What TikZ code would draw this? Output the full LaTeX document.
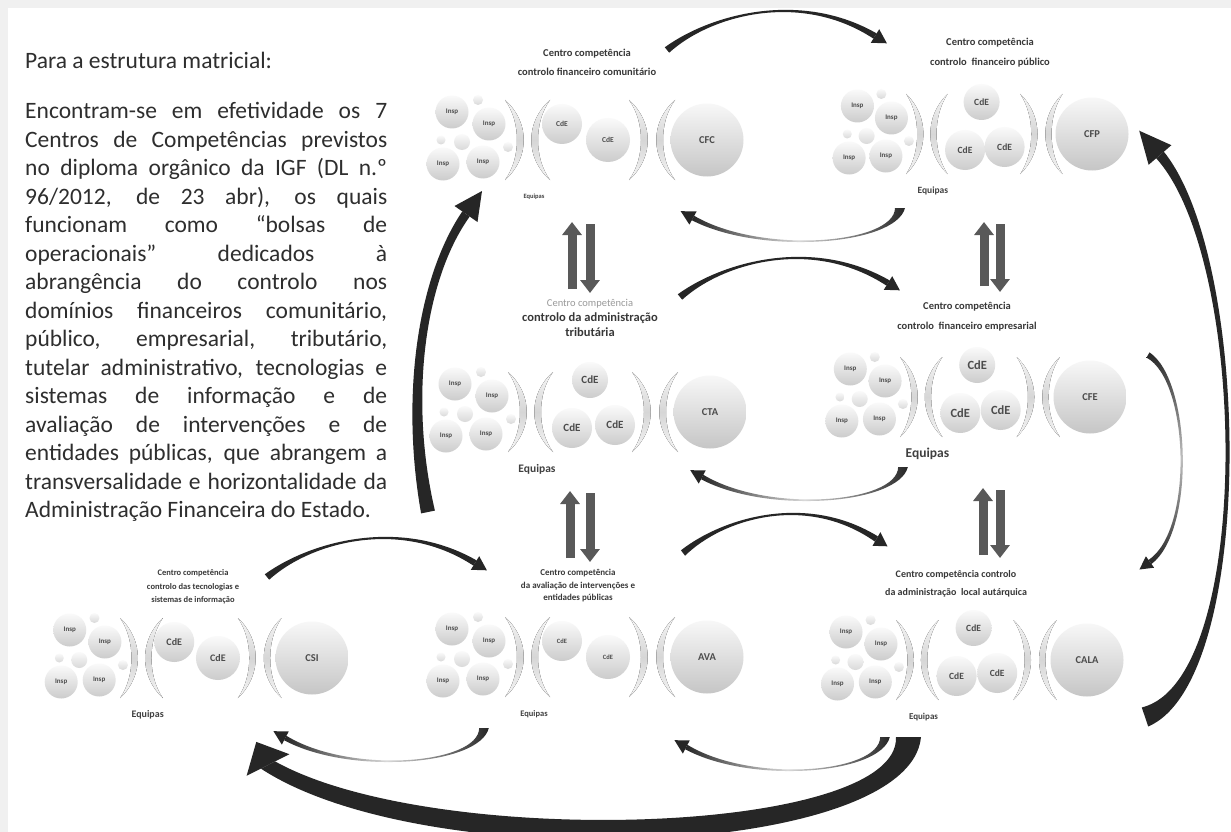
\documentclass[tikz,border=0pt]{standalone}
\usepackage{fontspec}
\setmainfont{Carlito}
\usetikzlibrary{arrows.meta}

\tikzset{
  bola/.style={circle, inner sep=0pt, top color=gray!4, bottom color=gray!40, text=black!70},
  bolinha/.style={circle, inner sep=0pt, top color=gray!4, bottom color=gray!30},
  insp/.style={bola, minimum size=33pt, font=\bfseries\fontsize{7}{7}\selectfont},
  cde/.style={bola, font=\bfseries\fontsize{9}{9}\selectfont},
  centro/.style={bola, minimum size=73pt, top color=gray!6, bottom color=gray!45, font=\bfseries\fontsize{10.5}{10.5}\selectfont},
  equipas/.style={text=black!75, inner sep=0pt, font=\bfseries\fontsize{9}{9}\selectfont},
  letracde/.style={cde/.append style={font=\bfseries\fontsize{#1}{#1}\selectfont}},
  letraeq/.style={equipas/.append style={font=\bfseries\fontsize{#1}{#1}\selectfont}},
  arco/.style={top color=gray!8, bottom color=gray!8, middle color=gray!32},
  titulo/.style={align=center, text=black!78, inner sep=0pt},
  texto/.style={inner sep=0pt, text=black!82, font=\fontsize{23.5}{28.5}\selectfont},
  bloco/.style={line width=9pt, black!65, -{Triangle[length=13pt, width=19pt]}},
  seta/.style={fill=black!85},
  fundo/.style={left color=black!85, right color=black!85, middle color=black!15},
  fundov/.style={top color=black!85, bottom color=black!85, middle color=black!25},
  % one centre: equipas, arcs, CdE and the centre itself
  pics/equipa/.style n args={2}{code={
    \node[bolinha, minimum size=10pt] (p1) at (-229,-40) {};
    \node[bolinha, minimum size=9pt] (p2) at (-266,0) {};
    \node[bolinha, minimum size=16pt] (p3) at (-245,2) {};
    \node[bolinha, minimum size=10pt] (p4) at (-199,7) {};
    \node[insp] (i1) at (-255,-28) {Insp};
    \node[insp] (i2) at (-218,-16) {Insp};
    \node[insp] (i3) at (-264,24) {Insp};
    \node[insp] (i4) at (-224,22) {Insp};
    \foreach \ax/\ad in {-202/1,-157/-1,-78/1,-32/-1}
      \fill[arco] (\ax,-40) .. controls ({\ax+25*\ad},-18) and ({\ax+25*\ad},18) .. (\ax,40)
        .. controls ({\ax+16*\ad},18) and ({\ax+16*\ad},-18) .. (\ax,-40) -- cycle;
    \ifnum#2=2
      \node[cde, minimum size=40pt] (c1) at (-145,-16) {CdE};
      \node[cde, minimum size=44pt] (c2) at (-99,0) {CdE};
    \else
      \node[cde, minimum size=36pt] (c1) at (-120,-32) {CdE};
      \node[cde, minimum size=40pt] (c2) at (-138,16) {CdE};
      \node[cde, minimum size=40pt] (c3) at (-95,13) {CdE};
    \fi
    \node[centro] (c) at (0,0) {#1};
    \node[equipas] (e) at (-173,57) {Equipas};
  }},
  pics/seta cima/.style={code={
    \fill[seta] (-2.2,-2.7) .. controls (43,-35.5) and (133,-60.5) .. (209.6,-16.6)
      -- (206.4,-11.4) .. controls (133,-59.5) and (43,-34.5) .. (2.2,2.7) -- cycle;
    \fill[seta] (212.2,-20.8) -- (219.9,-6.7) -- (203.8,-7.2) -- cycle;
  }},
  pics/seta baixo/.style={code={
    \shade[fundo] (5,0) .. controls (-4.5,37.5) and (-140,47.5) .. (-208.2,12.2)
      -- (-205.8,7.8) .. controls (-140,46.5) and (-5.5,36.5) .. (-5,0) -- cycle;
    \fill[seta] (-203.4,3.4) -- (-219.3,3.2) -- (-210.6,16.6) -- cycle;
  }},
}

\begin{document}
\begin{tikzpicture}[x=1pt,y=-1pt]
\useasboundingbox (0,0) rectangle (1231,832);
\fill[gray!12] (0,0) rectangle (1231,832);
\fill[white] (8,8) rectangle (1231,832);

% text on the left
\node[texto, anchor=base west] (intro) at (25,68.5) {Para a estrutura matricial:};
\node[texto, anchor=north west, align=left] (corpo) at (25,102) {%
\makebox[362pt][s]{Encontram-se em efetividade os 7}\\
\makebox[362pt][s]{Centros de Competências previstos}\\
\makebox[362pt][s]{no diploma orgânico da IGF (DL n.º}\\
\makebox[362pt][s]{96/2012, de 23 abr), os quais}\\
\makebox[362pt][s]{funcionam como “bolsas de}\\
\makebox[362pt][s]{operacionais” dedicados à}\\
\makebox[362pt][s]{abrangência do controlo nos}\\
\makebox[362pt][s]{domínios financeiros comunitário,}\\
\makebox[362pt][s]{público, empresarial, tributário,}\\
\makebox[362pt][s]{tutelar administrativo, tecnologias e}\\
\makebox[362pt][s]{sistemas de informação e de}\\
\makebox[362pt][s]{avaliação de intervenções e de}\\
\makebox[362pt][s]{entidades públicas, que abrangem a}\\
\makebox[362pt][s]{transversalidade e horizontalidade da}\\
Administração Financeira do Estado.};

% titles
\node[titulo, font=\bfseries\fontsize{10.5}{19}\selectfont] (tcfc) at (587,62) {Centro competência\\controlo financeiro comunitário};
\node[titulo, font=\bfseries\fontsize{10.5}{20}\selectfont] (tcfp) at (990,53) {Centro competência\\controlo\ \ financeiro público};
\node[titulo, font=\bfseries\fontsize{12.5}{15}\selectfont] (tcta) at (590,318) {{\mdseries\fontsize{10.5}{15}\selectfont\color{black!40}Centro competência}\\controlo da administração\\tributária};
\node[titulo, font=\bfseries\fontsize{10.5}{20}\selectfont] (tcfe) at (967,317) {Centro competência\\controlo\ \ financeiro empresarial};
\node[titulo, font=\bfseries\fontsize{8.5}{13.5}\selectfont] (tcsi) at (193,587) {Centro competência\\controlo das tecnologias e\\sistemas de informação};
\node[titulo, font=\bfseries\fontsize{9}{12.5}\selectfont] (tava) at (578,586) {Centro competência\\da avaliação de intervenções e\\entidades públicas};
\node[titulo, font=\bfseries\fontsize{10}{18}\selectfont] (tcala) at (956,584) {Centro competência controlo\\da administração\ \ local autárquica};

% the seven centres
\pic[letracde=7.5, letraeq=6.5] (cfc) at (707,140) {equipa={CFC}{2}};
\pic[xscale=0.92, letracde=9.5, letraeq=9.5] (cfp) at (1092,134) {equipa={CFP}{3}};
\pic[letracde=11, letraeq=11.5] (cta) at (710,412) {equipa={CTA}{3}};
\pic[xscale=0.94, letracde=12.5, letraeq=13.5] (cfe) at (1090,397) {equipa={CFE}{3}};
\pic[xscale=0.95, letracde=10, letraeq=10] (csi) at (312,658) {equipa={CSI}{2}};
\pic[letracde=6.5, letraeq=8.5] (ava) at (707,657) {equipa={AVA}{2}};
\pic[xscale=0.945, letracde=9.5, letraeq=9] (cala) at (1087,660) {equipa={CALA}{3}};

% double arrows
\draw[bloco] (572,289) coordinate (d1a) -- (572,222) coordinate (d1b);
\draw[bloco] (590,224) coordinate (d1c) -- (590,293) coordinate (d1d);
\draw[bloco] (984,286) coordinate (d2a) -- (984,222) coordinate (d2b);
\draw[bloco] (1000,224) coordinate (d2c) -- (1000,292) coordinate (d2d);
\draw[bloco] (570,558) coordinate (d3a) -- (570,491) coordinate (d3b);
\draw[bloco] (590,493) coordinate (d3c) -- (590,562) coordinate (d3d);
\draw[bloco] (983,555) coordinate (d4a) -- (983,488) coordinate (d4b);
\draw[bloco] (1000,490) coordinate (d4c) -- (1000,558) coordinate (d4d);

% curved arrows between centres
\pic (s1) at (667,50) {seta cima};
\pic (s2) at (900,208) {seta baixo};
\pic (s3) at (680,297) {seta cima};
\pic[xscale=0.97] (s4) at (903,467) {seta baixo};
\pic (s5) at (267,577) {seta cima};
\pic[xscale=0.93] (s6) at (683,553) {seta cima};
\pic[xscale=0.96] (s7) at (484,728) {seta baixo};
\pic[xscale=0.96] (s8) at (885,737) {seta baixo};

% right small arrow
\shade[fundov] (1149.5,352.4) .. controls (1191,380) and (1196,530) .. (1151.5,564)
  -- (1148.5,560) .. controls (1194,530) and (1189,380) .. (1146.5,357.6) -- cycle;
\fill[seta] (1154.1,567.7) -- (1139.4,569.5) -- (1145.9,556.3) -- cycle;
% big right arrow
\fill[seta] (1148.2,726.5) .. controls (1256.5,680) and (1251.5,260) .. (1163.8,151.7)
  -- (1156.2,158.3) .. controls (1248.5,260) and (1253.5,680) .. (1141.8,707.5) -- cycle;
\fill[seta] (1171.4,145.2) -- (1139.2,130.7) -- (1148.6,164.8) -- cycle;
% big left arrow
\fill[seta] (421.1,513.4) .. controls (401,400) and (416,280) .. (462.3,211.4)
  -- (469.7,216.6) .. controls (424,280) and (409,400) .. (434.9,510.6) -- cycle;
\fill[seta] (477.5,222) -- (482,191) -- (454.5,206) -- cycle;
% big bottom arrow
\fill[seta] (921,737) .. controls (910,858) and (426,877) .. (260.9,768.6)
  -- (275.1,761.4) .. controls (434,850) and (900,835) .. (896,737) -- cycle;
\fill[seta] (289.4,754.2) -- (256.3,741.9) -- (246.6,775.8) -- cycle;
\end{tikzpicture}
\end{document}
